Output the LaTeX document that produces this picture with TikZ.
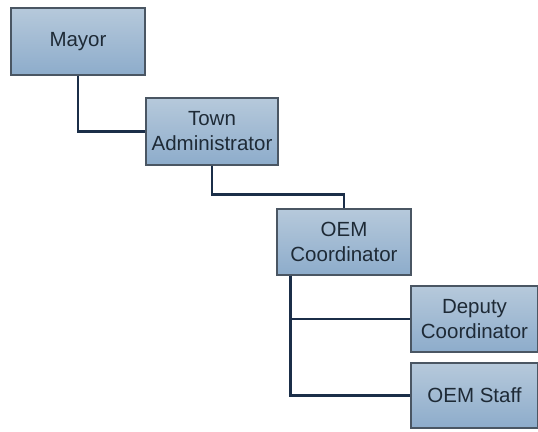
\documentclass[tikz,border=0pt]{standalone}
\usepackage{fontspec}
\setmainfont{Liberation Sans}
\usepackage{tikz}

\definecolor{boxtop}{HTML}{B6C9DB}
\definecolor{boxbot}{HTML}{8DACCB}
\definecolor{boxline}{HTML}{4A5663}
\definecolor{linkcol}{HTML}{1B2E48}
\definecolor{txtcol}{HTML}{1E2A36}

\begin{document}
\begin{tikzpicture}[x=1pt, y=-1pt,
		orgbox/.style={draw=boxline, line width=1.2pt, top color=boxtop, bottom color=boxbot,
			text=txtcol, align=center, inner sep=0pt, font=\fontsize{20.5}{25}\selectfont},
		link/.style={draw=linkcol, line width=2.5pt}]
		\useasboundingbox (0,0) rectangle (538,431);
		\node[orgbox, minimum width=134pt, minimum height=67pt] (Mayor) at (78, 41.5) {Mayor};
		\node[orgbox, minimum width=132pt, minimum height=67pt] (TownAdmin) at (212, 131.5) {Town\\Administrator};
		\node[orgbox, minimum width=134pt, minimum height=66pt] (OEMCoord) at (344, 242) {OEM\\Coordinator};
		\node[orgbox, minimum width=127pt, minimum height=66pt] (Deputy) at (474.5, 319) {Deputy\\Coordinator};
		\node[orgbox, minimum width=127pt, minimum height=65pt] (OEMStaff) at (474.5, 395.5) {OEM Staff};
		\draw[link] (Mayor.south) |- (TownAdmin.west);
		\draw[link] (TownAdmin.south) -- ++(0, 29) -| (OEMCoord.north);
		\coordinate (Trunk) at ([xshift=14pt]OEMCoord.south west);
		\draw[link] (Trunk) |- (Deputy.west);
		\draw[link] (Trunk) |- (OEMStaff.west);
		% \draw[link] (Trunk) -- (OEMStaff.south west);
	\end{tikzpicture}
\end{document}
